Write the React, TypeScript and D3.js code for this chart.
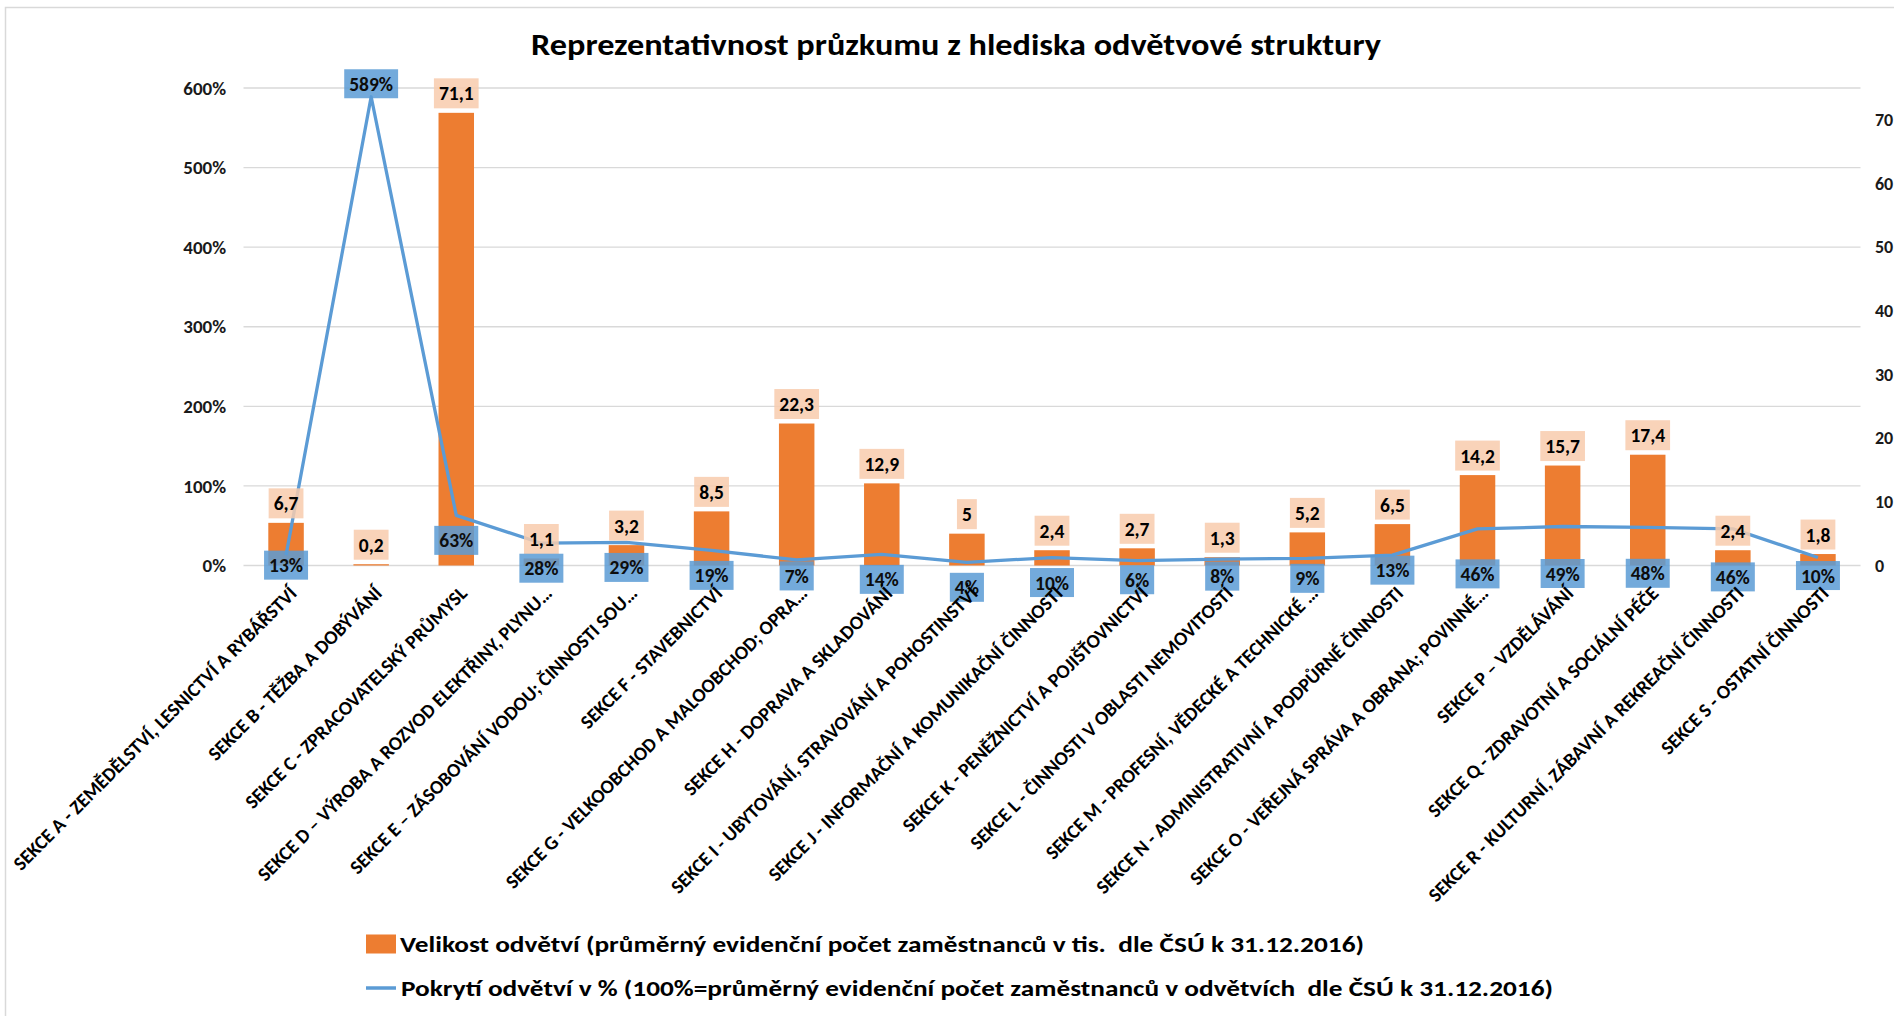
import React, { useEffect, useRef } from 'react';
import * as d3 from 'd3';

const categories = [
  'SEKCE A - ZEMĚDĚLSTVÍ, LESNICTVÍ A RYBÁŘSTVÍ',
  'SEKCE B - TĚŽBA A DOBÝVÁNÍ',
  'SEKCE C - ZPRACOVATELSKÝ PRŮMYSL',
  'SEKCE D – VÝROBA A ROZVOD ELEKTŘINY, PLYNU…',
  'SEKCE E – ZÁSOBOVÁNÍ VODOU; ČINNOSTI SOU…',
  'SEKCE F - STAVEBNICTVÍ',
  'SEKCE G - VELKOOBCHOD A MALOOBCHOD; OPRA…',
  'SEKCE H - DOPRAVA A SKLADOVÁNÍ',
  'SEKCE I - UBYTOVÁNÍ, STRAVOVÁNÍ A POHOSTINSTVÍ',
  'SEKCE J - INFORMAČNÍ A KOMUNIKAČNÍ ČINNOSTI',
  'SEKCE K - PENĚŽNICTVÍ A POJIŠŤOVNICTVÍ',
  'SEKCE L - ČINNOSTI V OBLASTI NEMOVITOSTÍ',
  'SEKCE M - PROFESNÍ, VĚDECKÉ A TECHNICKÉ …',
  'SEKCE N - ADMINISTRATIVNÍ A PODPŮRNÉ ČINNOSTI',
  'SEKCE O - VEŘEJNÁ SPRÁVA A OBRANA; POVINNÉ…',
  'SEKCE P – VZDĚLÁVÁNÍ',
  'SEKCE Q - ZDRAVOTNÍ A SOCIÁLNÍ PÉČE',
  'SEKCE R - KULTURNÍ, ZÁBAVNÍ A REKREAČNÍ ČINNOSTI',
  'SEKCE S - OSTATNÍ ČINNOSTI',
];

// Velikost odvětví (tis. zaměstnanců) – right axis
const sizeThousands = [6.7, 0.2, 71.1, 1.1, 3.2, 8.5, 22.3, 12.9, 5, 2.4, 2.7, 1.3, 5.2, 6.5, 14.2, 15.7, 17.4, 2.4, 1.8];
// Pokrytí odvětví v % – left axis
const coveragePct = [13, 589, 63, 28, 29, 19, 7, 14, 4, 10, 6, 8, 9, 13, 46, 49, 48, 46, 10];

const leftTicks = [0, 100, 200, 300, 400, 500, 600];
const rightTicks = [0, 10, 20, 30, 40, 50, 60, 70];

const titleText = 'Reprezentativnost průzkumu z hlediska odvětvové struktury';
const legendBarText = 'Velikost odvětví (průměrný evidenční počet zaměstnanců v tis.  dle ČSÚ k 31.12.2016)';
const legendLineText = 'Pokrytí odvětví v % (100%=průměrný evidenční počet zaměstnanců v odvětvích  dle ČSÚ k 31.12.2016)';

// layout
const W = 1894;
const H = 1016;
const PLOT = { left: 243.5, right: 1860.5, top: 88, bottom: 565.5 };
const FONT = 'Carlito, Lato, "Open Sans", sans-serif';
const ORANGE = '#ED7D31';
const BLUE = '#5B9BD5';
const PEACH = '#F8CBAD';
// manual nudges of the line data labels (px, relative to the default "below" spot)
const LINE_LABEL_NUDGE: Record<number, number> = {
  0: -15, 6: -9, 10: -6, 11: -8, 12: -5, 13: -10, 14: 20, 15: 22, 16: 21, 17: 23, 18: -7,
};

export default function App() {
  const ref = useRef<SVGSVGElement>(null);

  useEffect(() => {
    const svg = d3.select(ref.current);
    svg.selectAll('*').remove();

    const x = d3
      .scaleBand<string>()
      .domain(categories)
      .range([PLOT.left, PLOT.right])
      .paddingInner(0.583)
      .paddingOuter(0.2915);
    const yL = d3.scaleLinear().domain([0, 600]).range([PLOT.bottom, PLOT.top]);
    const yR = d3.scaleLinear().domain([0, 75]).range([PLOT.bottom, PLOT.top]);
    const cx = (c: string) => (x(c) as number) + x.bandwidth() / 2;

    svg.append('rect').attr('width', W).attr('height', H).attr('fill', '#fff');
    svg
      .append('rect')
      .attr('x', 5.5)
      .attr('y', 7.5)
      .attr('width', 2400)
      .attr('height', 2400)
      .attr('fill', 'none')
      .attr('stroke', '#D9D9D9')
      .attr('stroke-width', 1.5);

    // title
    svg
      .append('text')
      .attr('x', 956)
      .attr('y', 55)
      .attr('text-anchor', 'middle')
      .attr('font-family', FONT)
      .attr('font-weight', 700)
      .attr('font-size', 31)
      .attr('fill', '#000')
      .attr('textLength', 850)
      .attr('lengthAdjust', 'spacingAndGlyphs')
      .text(titleText);

    // gridlines
    svg
      .append('g')
      .selectAll('line')
      .data(leftTicks)
      .join('line')
      .attr('x1', PLOT.left)
      .attr('x2', PLOT.right)
      .attr('y1', (d) => yL(d))
      .attr('y2', (d) => yL(d))
      .attr('stroke', '#D9D9D9')
      .attr('stroke-width', 1.4);

    // left axis labels
    svg
      .append('g')
      .selectAll('text')
      .data(leftTicks)
      .join('text')
      .attr('x', 226)
      .attr('y', (d) => yL(d))
      .attr('dy', '0.35em')
      .attr('text-anchor', 'end')
      .attr('font-family', FONT)
      .attr('font-weight', 700)
      .attr('font-size', 19)
      .attr('fill', '#1a1a1a')
      .text((d) => `${d}%`);

    // right axis labels
    svg
      .append('g')
      .selectAll('text')
      .data(rightTicks)
      .join('text')
      .attr('x', 1875)
      .attr('y', (d) => yR(d))
      .attr('dy', '0.35em')
      .attr('text-anchor', 'start')
      .attr('font-family', FONT)
      .attr('font-weight', 700)
      .attr('font-size', 18)
      .attr('fill', '#1a1a1a')
      .text((d) => `${d}`);

    // bars
    svg
      .append('g')
      .selectAll('rect')
      .data(sizeThousands)
      .join('rect')
      .attr('x', (_d, i) => x(categories[i]) as number)
      .attr('width', x.bandwidth())
      .attr('y', (d) => yR(d))
      .attr('height', (d) => yR(0) - yR(d))
      .attr('fill', ORANGE);

    // line
    const line = d3
      .line<number>()
      .x((_d, i) => cx(categories[i]))
      .y((d) => yL(d));
    svg
      .append('path')
      .datum(coveragePct)
      .attr('d', line)
      .attr('fill', 'none')
      .attr('stroke', BLUE)
      .attr('stroke-width', 3.3)
      .attr('stroke-linejoin', 'round');

    const fmt = (v: number) => String(v).replace('.', ',');

    // bar data labels
    const barLab = svg.append('g');
    sizeThousands.forEach((v, i) => {
      const g = barLab.append('g');
      const cyy = yR(v) - 4.5 - 15;
      const rect = g.append('rect').attr('fill', PEACH).attr('opacity', 0.85);
      const t = g
        .append('text')
        .attr('x', cx(categories[i]))
        .attr('y', cyy)
        .attr('dy', '0.36em')
        .attr('text-anchor', 'middle')
        .attr('font-family', FONT)
        .attr('font-weight', 700)
        .attr('font-size', 19.5)
        .attr('fill', '#000')
        .text(fmt(v));
      const w = (t.node() as SVGTextElement).getComputedTextLength() + 10;
      rect
        .attr('x', cx(categories[i]) - w / 2)
        .attr('y', cyy - 15)
        .attr('width', w)
        .attr('height', 30);
    });

    // line data labels
    const lineLab = svg.append('g');
    coveragePct.forEach((v, i) => {
      const g = lineLab.append('g');
      const py = yL(v);
      const above = v > 100;
      const cyy = above ? py - 13 : py + 25 + (LINE_LABEL_NUDGE[i] || 0);
      const rect = g.append('rect').attr('fill', BLUE).attr('opacity', 0.85);
      const t = g
        .append('text')
        .attr('x', cx(categories[i]))
        .attr('y', cyy)
        .attr('dy', '0.36em')
        .attr('text-anchor', 'middle')
        .attr('font-family', FONT)
        .attr('font-weight', 700)
        .attr('font-size', 19.5)
        .attr('fill', '#0d0d0d')
        .text(`${v}%`);
      const w = (t.node() as SVGTextElement).getComputedTextLength() + 10;
      rect
        .attr('x', cx(categories[i]) - w / 2)
        .attr('y', cyy - 14.5)
        .attr('width', w)
        .attr('height', 29);
    });

    // category labels
    svg
      .append('g')
      .selectAll('text')
      .data(categories)
      .join('text')
      .attr('transform', (d) => `translate(${cx(d) + 12},${PLOT.bottom + 29}) rotate(-45)`)
      .attr('text-anchor', 'end')
      .attr('font-family', FONT)
      .attr('font-weight', 700)
      .attr('font-size', 19.5)
      .attr('fill', '#000')
      .text((d) => d);

    // legend
    const lg = svg.append('g');
    lg.append('rect').attr('x', 366).attr('y', 934.5).attr('width', 30).attr('height', 19).attr('fill', ORANGE);
    lg.append('text')
      .attr('x', 400)
      .attr('y', 944)
      .attr('dy', '0.35em')
      .attr('font-family', FONT)
      .attr('font-weight', 700)
      .attr('font-size', 23)
      .attr('fill', '#000')
      .style('white-space', 'pre')
      .attr('textLength', 964)
      .attr('lengthAdjust', 'spacingAndGlyphs')
      .text(legendBarText);
    lg.append('line')
      .attr('x1', 366)
      .attr('x2', 396)
      .attr('y1', 988)
      .attr('y2', 988)
      .attr('stroke', BLUE)
      .attr('stroke-width', 3.5);
    lg.append('text')
      .attr('x', 401)
      .attr('y', 988)
      .attr('dy', '0.35em')
      .attr('font-family', FONT)
      .attr('font-weight', 700)
      .attr('font-size', 23)
      .attr('fill', '#000')
      .style('white-space', 'pre')
      .attr('textLength', 1152)
      .attr('lengthAdjust', 'spacingAndGlyphs')
      .text(legendLineText);
  }, []);

  return (
    <div style={{ position: 'absolute', left: 0, top: 0, width: W, height: H, overflow: 'hidden' }}>
      <svg ref={ref} width={W} height={H} style={{ display: 'block' }} />
    </div>
  );
}
